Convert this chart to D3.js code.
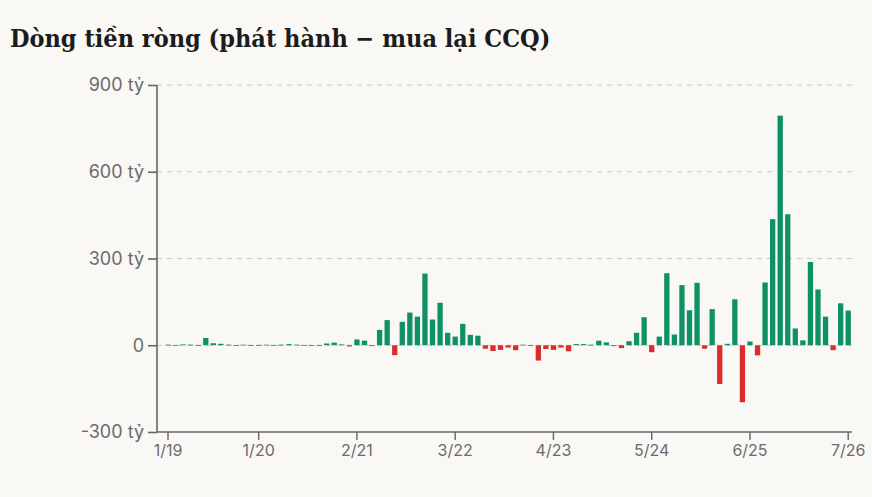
<!DOCTYPE html>
<html>
<head>
<meta charset="utf-8">
<script src="https://cdn.jsdelivr.net/npm/d3@7/dist/d3.min.js"></script>
<style>
  html, body { margin: 0; padding: 0; background: #f9f8f5; }
  svg { display: block; }
</style>
</head>
<body>
<svg id="chart" width="872" height="497"></svg>
<script>
// ---- Data ----
const startMonth = "2019-01";
const monthCount = 91; // 1/2019 .. 7/2026
const values = [
  2, 1, 3, 2, 1, 25, 7, 5, 2, 1, 2, 1,
  1, 2, 1, 2, 4, 2, 1, -1, 1, 6, 9, 3,
  -4, 20, 16, -3, 53, 87, -34, 81, 113, 99, 248, 89,
  147, 43, 30, 74, 36, 33, -12, -20, -16, -8, -17, 2,
  -2, -53, -13, -16, -8, -21, 4, 4, 2, 16, 10, -3,
  -10, 14, 43, 97, -24, 30, 249, 37, 208, 121, 216, -12,
  125, -134, 5, 159, -197, 13, -35, 217, 436, 794, 453, 58,
  17, 288, 193, 99, -17, 145, 120
];
const tickLabels = ["1/19", "1/20", "2/21", "3/22", "4/23", "5/24", "6/25", "7/26"];
const yTicks = [-300, 0, 300, 600, 900];
const title = "Dòng tiền ròng (phát hành − mua lại CCQ)";

(function () {
// categories (month labels M/YY)
const start = d3.timeParse("%Y-%m")(startMonth);
const months = d3.range(monthCount).map(i => {
  const d = d3.timeMonth.offset(start, i);
  return (d.getMonth() + 1) + "/" + String(d.getFullYear()).slice(2);
});

// ---- Layout ----
const svg = d3.select("#chart");
const axisX = 157, plotL = 164.2, plotR = 852, plotT = 85, plotB = 432;
const green = "#0f9166", red = "#db2b2b";

svg.append("rect").attr("width", 872).attr("height", 497).attr("fill", "#f9f8f5");

const t = svg.append("text")
  .attr("x", 10).attr("y", 47)
  .attr("font-family", "'DejaVu Serif Condensed', 'DejaVu Serif', serif")
  .attr("font-stretch", "condensed")
  .attr("font-weight", "bold")
  .attr("font-size", 25)
  .attr("fill", "#1c1c1c")
  .text(title);

const x = d3.scaleBand().domain(months).range([plotL, plotR]).paddingInner(0.3).paddingOuter(0.15);
const y = d3.scaleLinear().domain([-300, 900]).range([plotB, plotT]);

// gridlines
svg.append("g").selectAll("line").data(yTicks.filter(v => v > -300)).join("line")
  .attr("x1", axisX).attr("x2", plotR)
  .attr("y1", d => y(d)).attr("y2", d => y(d))
  .attr("stroke", "#c9c9c6").attr("stroke-width", 1.2)
  .attr("stroke-dasharray", "5,5");

// bars
svg.append("g").selectAll("rect").data(values).join("rect")
  .attr("x", (d, i) => x(months[i]))
  .attr("width", x.bandwidth())
  .attr("y", d => y(Math.max(0, d)))
  .attr("height", d => Math.max(0.8, Math.abs(y(d) - y(0))))
  .attr("fill", d => d >= 0 ? green : red);

// y axis
const yAxis = d3.axisLeft(y).tickValues(yTicks).tickSize(9).tickPadding(4)
  .tickFormat(d => d === 0 ? "0" : d + " tỷ");
const gy = svg.append("g").attr("transform", `translate(${axisX},0)`).call(yAxis);
gy.select(".domain").remove();
gy.append("line").attr("x1", 0).attr("x2", 0).attr("y1", plotT).attr("y2", plotB)
  .attr("stroke", "#666").attr("stroke-width", 1.6);
gy.selectAll(".tick line").attr("stroke", "#666").attr("stroke-width", 1.6);
gy.selectAll(".tick text").attr("fill", "#6b6b6b")
  .attr("font-family", "Inter, sans-serif").attr("font-size", 18);

// x axis
const xAxis = d3.axisBottom(x)
  .tickValues(months.filter(m => tickLabels.includes(m)))
  .tickSize(8).tickPadding(5);
const gx = svg.append("g").attr("transform", `translate(0,${plotB})`).call(xAxis);
gx.select(".domain").remove();
gx.append("line").attr("x1", axisX).attr("x2", plotR).attr("y1", 0).attr("y2", 0)
  .attr("stroke", "#666").attr("stroke-width", 1.6);
gx.selectAll(".tick line").attr("stroke", "#666").attr("stroke-width", 1.4);
gx.selectAll(".tick text").attr("fill", "#6b6b6b")
  .attr("font-family", "Inter, sans-serif").attr("font-size", 16);
})();
</script>
</body>
</html>
